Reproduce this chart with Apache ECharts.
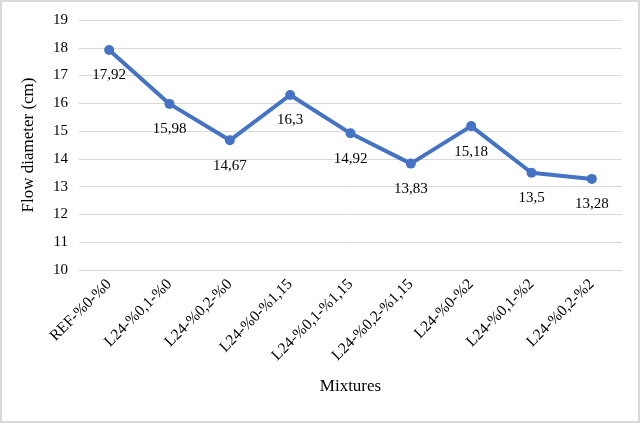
<!DOCTYPE html>
<html lang="en">
<head>
    <meta charset="UTF-8">
    <title>Flow diameter</title>
    <script src="https://cdn.jsdelivr.net/npm/echarts@6/dist/echarts.min.js"></script>
</head>
<style type="text/css">
    html, body { margin: 0; padding: 0; background: #fff; }
    #main {
        width: 636px;
        height: 419px;
        border: 2px solid #d9d9d9;
    }
</style>
<body>
<div id="main"></div>
<script type="text/javascript">
    var mixtures = ['REF-%0-%0', 'L24-%0,1-%0', 'L24-%0,2-%0', 'L24-%0-%1,15', 'L24-%0,1-%1,15',
        'L24-%0,2-%1,15', 'L24-%0-%2', 'L24-%0,1-%2', 'L24-%0,2-%2'];
    var flowDiameter = [17.92, 15.98, 14.67, 16.3, 14.92, 13.83, 15.18, 13.5, 13.28];

    var font = '"Liberation Serif", "Times New Roman", serif';
    var myChart = echarts.init(document.getElementById('main'));
    var option = {
        animation: false,
        grid: {left: 77, right: 16, top: 18, bottom: 151},
        xAxis: {
            type: 'category',
            data: mixtures,
            name: 'Mixtures',
            nameLocation: 'middle',
            nameGap: 108,
            nameTextStyle: {fontFamily: font, fontSize: 17, color: '#000'},
            axisLine: {show: true, lineStyle: {color: '#d9d9d9'}},
            axisTick: {show: false},
            axisLabel: {rotate: 45, interval: 0, fontFamily: font, fontSize: 15.5, color: '#000', margin: 12}
        },
        yAxis: {
            type: 'value',
            min: 10,
            max: 19,
            interval: 1,
            name: 'Flow diameter (cm)',
            nameLocation: 'middle',
            nameGap: 42,
            nameTextStyle: {fontFamily: font, fontSize: 17, color: '#000'},
            axisLine: {show: false},
            axisTick: {show: false},
            axisLabel: {fontFamily: font, fontSize: 15, color: '#000', margin: 11},
            splitLine: {lineStyle: {color: '#d9d9d9', width: 1}}
        },
        series: [{
            type: 'line',
            data: flowDiameter,
            symbol: 'circle',
            symbolSize: 10,
            lineStyle: {color: '#4472C4', width: 4},
            itemStyle: {color: '#4472C4'},
            label: {
                show: true,
                position: 'bottom',
                distance: 13,
                fontFamily: font,
                fontSize: 15,
                color: '#000',
                formatter: function (p) { return String(p.value).replace('.', ','); }
            }
        }]
    };
    myChart.setOption(option);
</script>
</body>
</html>
